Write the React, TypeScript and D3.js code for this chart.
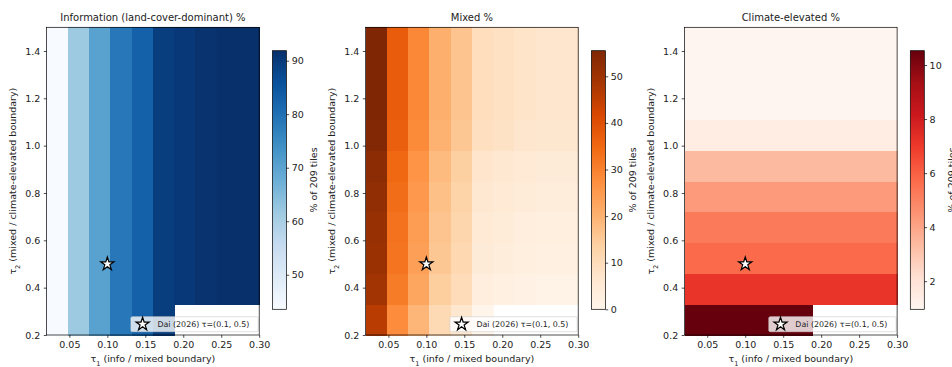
import React, { useEffect, useRef } from "react";
import * as d3 from "d3";

// grid cell edges (imshow extent split into 10 x 10 cells)
const tau1Edges = [0.02, 0.048, 0.076, 0.104, 0.132, 0.16, 0.188, 0.216, 0.244, 0.272, 0.3];
const tau2Edges = [0.2, 0.33, 0.46, 0.59, 0.72, 0.85, 0.98, 1.11, 1.24, 1.37, 1.5];

const xTicks = [0.05, 0.1, 0.15, 0.2, 0.25, 0.3];
const yTicks = [0.2, 0.4, 0.6, 0.8, 1.0, 1.2, 1.4];

// rows go from tau2 = 0.2 (bottom) to 1.5 (top); null = empty cell
const infoPct = [
  [43.54, 61.72, 70.33, 78.47, 82.78, 89.47, null, null, null, null],
  [43.54, 61.72, 70.33, 78.47, 82.78, 89.47, 90.43, 91.39, 91.87, 91.87],
  [43.54, 61.72, 70.33, 78.47, 82.78, 89.47, 90.43, 91.39, 91.87, 91.87],
  [43.54, 61.72, 70.33, 78.47, 82.78, 89.47, 90.43, 91.39, 91.87, 91.87],
  [43.54, 61.72, 70.33, 78.47, 82.78, 89.47, 90.43, 91.39, 91.87, 91.87],
  [43.54, 61.72, 70.33, 78.47, 82.78, 89.47, 90.43, 91.39, 91.87, 91.87],
  [43.54, 61.72, 70.33, 78.47, 82.78, 89.47, 90.43, 91.39, 91.87, 91.87],
  [43.54, 61.72, 70.33, 78.47, 82.78, 89.47, 90.43, 91.39, 91.87, 91.87],
  [43.54, 61.72, 70.33, 78.47, 82.78, 89.47, 90.43, 91.39, 91.87, 91.87],
  [43.54, 61.72, 70.33, 78.47, 82.78, 89.47, 90.43, 91.39, 91.87, 91.87],
];

const mixedPct = [
  [45.93, 27.75, 19.14, 11.0, 6.69, 0.0, null, null, null, null],
  [49.28, 31.1, 22.49, 14.35, 10.04, 3.35, 2.39, 1.43, 0.95, 0.95],
  [50.72, 32.54, 23.93, 15.79, 11.48, 4.79, 3.83, 2.87, 2.39, 2.39],
  [51.2, 33.02, 24.41, 16.27, 11.96, 5.27, 4.31, 3.35, 2.87, 2.87],
  [52.15, 33.97, 25.36, 17.22, 12.91, 6.22, 5.26, 4.3, 3.82, 3.82],
  [53.11, 34.93, 26.32, 18.18, 13.87, 7.18, 6.22, 5.26, 4.78, 4.78],
  [55.02, 36.84, 28.23, 20.09, 15.78, 9.09, 8.13, 7.17, 6.69, 6.69],
  [55.5, 37.32, 28.71, 20.57, 16.26, 9.57, 8.61, 7.65, 7.17, 7.17],
  [55.5, 37.32, 28.71, 20.57, 16.26, 9.57, 8.61, 7.65, 7.17, 7.17],
  [55.5, 37.32, 28.71, 20.57, 16.26, 9.57, 8.61, 7.65, 7.17, 7.17],
];

const climatePct = [
  [10.53, 10.53, 10.53, 10.53, 10.53, 10.53, null, null, null, null],
  [7.18, 7.18, 7.18, 7.18, 7.18, 7.18, 7.18, 7.18, 7.18, 7.18],
  [5.74, 5.74, 5.74, 5.74, 5.74, 5.74, 5.74, 5.74, 5.74, 5.74],
  [5.26, 5.26, 5.26, 5.26, 5.26, 5.26, 5.26, 5.26, 5.26, 5.26],
  [4.31, 4.31, 4.31, 4.31, 4.31, 4.31, 4.31, 4.31, 4.31, 4.31],
  [3.35, 3.35, 3.35, 3.35, 3.35, 3.35, 3.35, 3.35, 3.35, 3.35],
  [1.44, 1.44, 1.44, 1.44, 1.44, 1.44, 1.44, 1.44, 1.44, 1.44],
  [0.96, 0.96, 0.96, 0.96, 0.96, 0.96, 0.96, 0.96, 0.96, 0.96],
  [0.96, 0.96, 0.96, 0.96, 0.96, 0.96, 0.96, 0.96, 0.96, 0.96],
  [0.96, 0.96, 0.96, 0.96, 0.96, 0.96, 0.96, 0.96, 0.96, 0.96],
];

const panelTitles = ["Information (land-cover-dominant) %", "Mixed %", "Climate-elevated %"];
const colorbarTicks = [
  [50, 60, 70, 80, 90],
  [0, 10, 20, 30, 40, 50],
  [2, 4, 6, 8, 10],
];
const daiPoint = { tau1: 0.1, tau2: 0.5, label: "Dai (2026) τ=(0.1, 0.5)" };

const FONT = "DejaVu Sans, sans-serif";
const TEXT = "#222";
const FS = 9.5;

export default function App() {
  const ref = useRef<SVGSVGElement>(null);

  useEffect(() => {
    const svg = d3.select(ref.current);
    svg.selectAll("*").remove();

    const panels = [
      { data: infoPct, scheme: d3.schemeBlues[9], left: 46.6 },
      { data: mixedPct, scheme: d3.schemeOranges[9], left: 365.6 },
      { data: climatePct, scheme: d3.schemeReds[9], left: 684.5 },
    ];

    const W = 212.6;
    const top = 27.3;
    const bottom = 335;
    const cbTop = 50.7;
    const cbBottom = 309.3;
    const tickLen = 2.8;
    const defs = svg.append("defs");

    panels.forEach((p, i) => {
      const g = svg.append("g").attr("transform", `translate(${p.left},0)`);

      const x = d3.scaleLinear().domain([tau1Edges[0], tau1Edges[tau1Edges.length - 1]]).range([0, W]);
      const y = d3.scaleLinear().domain([tau2Edges[0], tau2Edges[tau2Edges.length - 1]]).range([bottom, top]);

      const vals = p.data.flat().filter((v) => v != null) as number[];
      const [vmin, vmax] = d3.extent(vals) as [number, number];
      const color = d3
        .scaleLinear<string>()
        .domain(p.scheme.map((_, k) => vmin + (k * (vmax - vmin)) / (p.scheme.length - 1)))
        .range(p.scheme)
        .interpolate(d3.interpolateRgb);

      // background
      g.append("rect").attr("x", 0).attr("y", top).attr("width", W).attr("height", bottom - top).attr("fill", "#fff");

      // cells
      const cells: { r: number; c: number; v: number }[] = [];
      p.data.forEach((row, r) =>
        row.forEach((v, c) => {
          if (v != null) cells.push({ r, c, v });
        })
      );
      g.append("g")
        .attr("shape-rendering", "crispEdges")
        .selectAll("rect")
        .data(cells)
        .enter()
        .append("rect")
        .attr("x", (d) => x(tau1Edges[d.c]))
        .attr("y", (d) => y(tau2Edges[d.r + 1]))
        .attr("width", (d) => x(tau1Edges[d.c + 1]) - x(tau1Edges[d.c]) + 0.5)
        .attr("height", (d) => y(tau2Edges[d.r]) - y(tau2Edges[d.r + 1]) + 0.5)
        .attr("fill", (d) => color(d.v));

      // star marker
      const star = d3.symbol().type(d3.symbolStar).size(54);
      g.append("path")
        .attr("d", star() as string)
        .attr("transform", `translate(${x(daiPoint.tau1)},${y(daiPoint.tau2)})`)
        .attr("fill", "#fff")
        .attr("stroke", "#000")
        .attr("stroke-width", 1.2);

      // legend
      const lg = g.append("g").attr("transform", `translate(${W - 128.3},${bottom - 18.3})`);
      lg.append("rect")
        .attr("width", 127.3)
        .attr("height", 15)
        .attr("rx", 1.5)
        .attr("fill", "#fff")
        .attr("fill-opacity", 0.8)
        .attr("stroke", "#ccc")
        .attr("stroke-width", 0.6);
      lg.append("path")
        .attr("d", star() as string)
        .attr("transform", "translate(11.7,7.5)")
        .attr("fill", "#fff")
        .attr("stroke", "#000")
        .attr("stroke-width", 1.2);
      lg.append("text")
        .attr("x", 26.5)
        .attr("y", 7.5)
        .attr("dy", "0.35em")
        .attr("font-family", FONT)
        .attr("font-size", 7.9)
        .attr("fill", TEXT)
        .text(daiPoint.label);

      // axes frame
      g.append("rect")
        .attr("x", 0)
        .attr("y", top)
        .attr("width", W)
        .attr("height", bottom - top)
        .attr("fill", "none")
        .attr("stroke", "#000")
        .attr("stroke-width", 0.7);

      const xAxis = g
        .append("g")
        .attr("transform", `translate(0,${bottom})`)
        .call(d3.axisBottom(x).tickValues(xTicks).tickFormat(d3.format(".2f")).tickSize(tickLen).tickPadding(3.5));
      const yAxis = g
        .append("g")
        .call(d3.axisLeft(y).tickValues(yTicks).tickFormat(d3.format(".1f")).tickSize(tickLen).tickPadding(3.5));
      [xAxis, yAxis].forEach((a) => {
        a.select(".domain").remove();
        a.selectAll("line").attr("stroke", "#000").attr("stroke-width", 0.7);
        a.selectAll("text").attr("font-family", FONT).attr("font-size", FS).attr("fill", TEXT);
      });

      // axis labels
      const xl = g
        .append("text")
        .attr("x", W / 2)
        .attr("y", 358.6)
        .attr("dy", "0.35em")
        .attr("text-anchor", "middle")
        .attr("font-family", FONT)
        .attr("font-size", FS)
        .attr("fill", TEXT);
      xl.append("tspan").text("τ");
      xl.append("tspan").attr("baseline-shift", "sub").attr("font-size", 6.6).text("1");
      xl.append("tspan").text(" (info / mixed boundary)");

      const yl = g
        .append("text")
        .attr("transform", `translate(-33.5,${(top + bottom) / 2}) rotate(-90)`)
        .attr("dy", "0.35em")
        .attr("text-anchor", "middle")
        .attr("font-family", FONT)
        .attr("font-size", FS)
        .attr("fill", TEXT);
      yl.append("tspan").text("τ");
      yl.append("tspan").attr("baseline-shift", "sub").attr("font-size", 6.6).text("2");
      yl.append("tspan").text(" (mixed / climate-elevated boundary)");

      // title
      g.append("text")
        .attr("x", W / 2)
        .attr("y", 17.3)
        .attr("dy", "0.35em")
        .attr("text-anchor", "middle")
        .attr("font-family", FONT)
        .attr("font-size", 10)
        .attr("fill", TEXT)
        .text(panelTitles[i]);

      // colorbar
      const gradId = `cb-grad-${i}`;
      const grad = defs
        .append("linearGradient")
        .attr("id", gradId)
        .attr("x1", 0)
        .attr("y1", 1)
        .attr("x2", 0)
        .attr("y2", 0);
      p.scheme.forEach((c, k) => {
        grad
          .append("stop")
          .attr("offset", k / (p.scheme.length - 1))
          .attr("stop-color", c);
      });
      const cbX = W + 13.2;
      const cbW = 14;
      g.append("rect")
        .attr("x", cbX)
        .attr("y", cbTop)
        .attr("width", cbW)
        .attr("height", cbBottom - cbTop)
        .attr("fill", `url(#${gradId})`)
        .attr("stroke", "#000")
        .attr("stroke-width", 0.7);
      const cbScale = d3.scaleLinear().domain([vmin, vmax]).range([cbBottom, cbTop]);
      const cbAxis = g
        .append("g")
        .attr("transform", `translate(${cbX + cbW},0)`)
        .call(d3.axisRight(cbScale).tickValues(colorbarTicks[i]).tickFormat(d3.format("d")).tickSize(tickLen).tickPadding(2.5));
      cbAxis.select(".domain").remove();
      cbAxis.selectAll("line").attr("stroke", "#000").attr("stroke-width", 0.7);
      cbAxis.selectAll("text").attr("font-family", FONT).attr("font-size", FS).attr("fill", TEXT);

      g.append("text")
        .attr("transform", `translate(${cbX + cbW + 27},${(cbTop + cbBottom) / 2}) rotate(-90)`)
        .attr("dy", "0.35em")
        .attr("text-anchor", "middle")
        .attr("font-family", FONT)
        .attr("font-size", FS)
        .attr("fill", TEXT)
        .text("% of 209 tiles");
    });
  }, []);

  return (
    <svg
      ref={ref}
      width={952}
      height={367}
      style={{ position: "absolute", left: 0, top: 0, background: "#fff" }}
    />
  );
}
